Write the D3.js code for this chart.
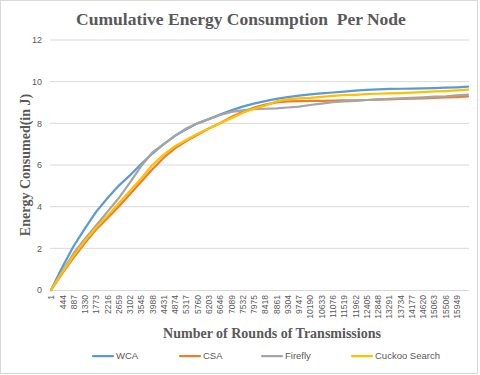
<!DOCTYPE html>
<html><head><meta charset="utf-8">
<script src="https://cdn.jsdelivr.net/npm/d3@7"></script>
<style>body{margin:0;background:#fff}svg{display:block}</style>
</head><body>
<script>
const rounds = d3.range(38).map(k => 1 + 443 * k);
const tickLabels = d3.range(37).map(k => 1 + 443 * k);
const yTicks = [0, 2, 4, 6, 8, 10, 12];
const seriesNames = ["WCA", "CSA", "Firefly", "Cuckoo Search"];
const wca = [0,1.09,2.1,2.95,3.75,4.4,5.0,5.5,6.05,6.55,7.0,7.4,7.72,8.0,8.2,8.42,8.62,8.8,8.95,9.07,9.17,9.26,9.33,9.39,9.44,9.48,9.52,9.57,9.61,9.63,9.65,9.66,9.67,9.68,9.69,9.71,9.73,9.76];
const csa = [0,0.8,1.55,2.25,2.9,3.45,4.0,4.6,5.2,5.8,6.35,6.8,7.15,7.45,7.75,8.0,8.3,8.55,8.75,8.9,9.0,9.05,9.07,9.08,9.08,9.09,9.1,9.1,9.12,9.14,9.15,9.17,9.18,9.2,9.22,9.24,9.26,9.29];
const firefly = [0,0.9,1.75,2.45,3.1,3.75,4.4,5.15,5.95,6.6,7.0,7.4,7.75,8.0,8.2,8.4,8.55,8.62,8.68,8.7,8.72,8.76,8.8,8.88,8.95,9.02,9.05,9.08,9.12,9.15,9.18,9.2,9.22,9.25,9.28,9.3,9.34,9.38];
const cuckoo = [0,0.85,1.65,2.35,3.0,3.55,4.15,4.75,5.35,6.0,6.5,6.9,7.2,7.5,7.75,8.0,8.25,8.5,8.7,8.85,9.05,9.15,9.2,9.22,9.27,9.32,9.35,9.37,9.4,9.42,9.44,9.45,9.47,9.5,9.53,9.55,9.58,9.62];
const colors = ["#5B9BD5", "#ED7D31", "#A5A5A5", "#FFC000"];
const seriesValues = [wca, csa, firefly, cuckoo];

const W = 480, H = 375;
const svg = d3.select("body").append("svg").attr("width", W).attr("height", H);
svg.append("rect").attr("x", 0.5).attr("y", 0.5).attr("width", 477).attr("height", 373)
  .attr("fill", "#fff").attr("stroke", "#d9d9d9");

const x = d3.scaleLinear().domain([1, 16392]).range([51, 468]);
const y = d3.scaleLinear().domain([0, 12]).range([290, 40]);
const serif = "'Liberation Serif','Times New Roman',serif";
const sans = "'Liberation Sans',Arial,sans-serif";

// gridlines
svg.append("g").selectAll("line").data(yTicks.filter(d => d > 0)).join("line")
  .attr("x1", 50).attr("x2", 469).attr("y1", d => y(d)).attr("y2", d => y(d))
  .attr("stroke", "#d9d9d9").attr("stroke-width", 1);

// y axis labels
const ya = svg.append("g").attr("transform", "translate(50,0)")
  .call(d3.axisLeft(y).tickValues(yTicks).tickSize(0).tickPadding(8));
ya.select(".domain").remove();
ya.selectAll("text").attr("fill", "#595959").style("font-family", sans).style("font-size", "9px");

// x axis
const xa = svg.append("g").attr("transform", "translate(0,290)")
  .call(d3.axisBottom(x).tickValues(tickLabels).tickSize(0).tickPadding(0).tickFormat(d3.format("d")));
xa.select(".domain").attr("stroke", "#d9d9d9").attr("d", "M50,0.5H469");
xa.selectAll("text").attr("fill", "#595959").style("font-family", sans).style("font-size", "8.5px")
  .attr("transform", "rotate(-90)").attr("text-anchor", "end").attr("x", -5).attr("y", 0).attr("dy", "0.32em");

// lines
const line = d3.line().x((d, i) => x(rounds[i])).y(d => y(d));
seriesValues.forEach((vals, i) => {
  svg.append("path").datum(vals).attr("d", line).attr("fill", "none")
    .attr("stroke", colors[i]).attr("stroke-width", 2.25).attr("stroke-linejoin", "round").attr("stroke-linecap", "round");
});

// titles
svg.append("text").attr("x", 241).attr("y", 25).attr("text-anchor", "middle")
  .style("font-family", serif).style("font-weight", "bold").style("font-size", "17.5px").attr("fill", "#595959")
  .text("Cumulative Energy Consumption\u00a0 Per Node");
svg.append("text").attr("transform", "translate(30,165) rotate(-90)").attr("text-anchor", "middle")
  .style("font-family", serif).style("font-weight", "bold").style("font-size", "14px").attr("fill", "#595959")
  .text("Energy Consumed(in J)");
svg.append("text").attr("x", 272).attr("y", 338).attr("text-anchor", "middle")
  .style("font-family", serif).style("font-weight", "bold").style("font-size", "14px").attr("fill", "#595959")
  .text("Number of Rounds of Transmissions");

// legend
const legX = [93, 180, 262, 352];
const leg = svg.append("g").selectAll("g").data(seriesNames).join("g")
  .attr("transform", (d, i) => `translate(${legX[i]},356)`);
leg.append("line").attr("x1", 0).attr("x2", 20).attr("y1", 0).attr("y2", 0)
  .attr("stroke", (d, i) => colors[i]).attr("stroke-width", 2.25).attr("stroke-linecap", "round");
leg.append("text").attr("x", 23).attr("y", 0).attr("dy", "0.35em").text(d => d)
  .style("font-family", sans).style("font-size", "9.5px").attr("fill", "#595959");
</script>
</body></html>
